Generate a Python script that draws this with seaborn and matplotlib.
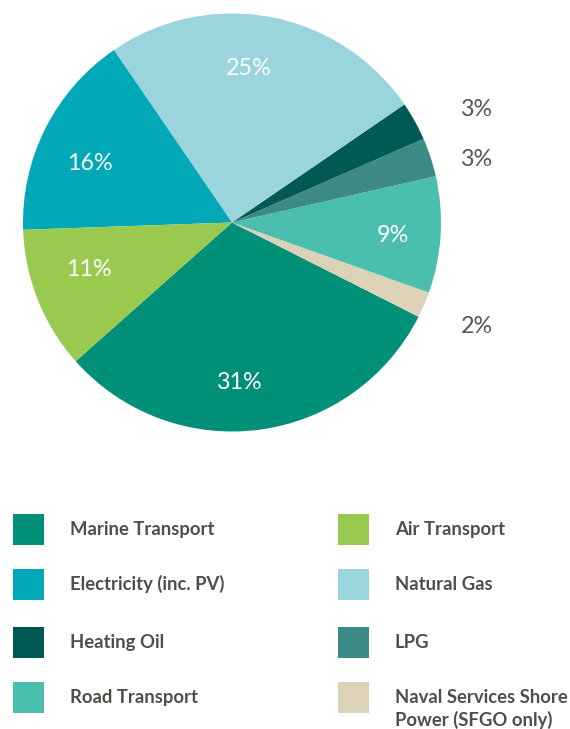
import matplotlib
matplotlib.use("Agg")
import matplotlib.pyplot as plt
from matplotlib.patches import Rectangle
import seaborn as sns

# ---- data ----
categories = ["Marine Transport", "Naval Services Shore\nPower (SFGO only)", "Road Transport",
              "LPG", "Heating Oil", "Natural Gas", "Electricity (inc. PV)", "Air Transport"]
values = [31, 2, 9, 3, 3, 25, 16, 11]
colors = ["#008f77", "#dcd2b7", "#4bbfad", "#3c8a86", "#005a53", "#9ad4dc", "#00a8b8", "#99c94f"]
legend_order = ["Marine Transport", "Air Transport", "Electricity (inc. PV)", "Natural Gas",
                "Heating Oil", "LPG", "Road Transport", "Naval Services Shore\nPower (SFGO only)"]

# ---- layout ----
sns.set_theme(style="white")
plt.rcParams["font.family"] = ["Lato", "DejaVu Sans"]

W, H = 570, 729
fig = plt.figure(figsize=(W / 100, H / 100), dpi=100)
ax = fig.add_axes([0, 0, 1, 1])
cx, cy, R = 232, 222.5, 209.0

wedges, _ = ax.pie(values, colors=colors, startangle=-138.4, counterclock=True,
                   radius=1.0, center=(0, 0), wedgeprops=dict(linewidth=0))

ax.set_aspect("auto")
ax.set_xlim(-cx / R, (W - cx) / R)
ax.set_ylim(-(H - cy) / R, cy / R)
ax.axis("off")

# percentage labels (positions in data units of the pie)
inside_pos = {0: (0.038, -0.765), 2: (0.772, -0.060), 5: (0.080, 0.736),
              6: (-0.679, 0.283), 7: (-0.686, -0.227)}
outside_pos = {4: (1.094, 0.511), 3: (1.094, 0.272), 1: (1.094, -0.530)}
for i, v in enumerate(values):
    if i in inside_pos:
        x, y = inside_pos[i]
        ax.text(x, y, f"{v}%", color="white", fontsize=16.8, ha="center", va="center")
    else:
        x, y = outside_pos[i]
        ax.text(x, y, f"{v}%", color="#57574f", fontsize=16.8, ha="left", va="baseline")

# legend
col_x = [13, 338]
text_x = [70, 395]
row_tops = [514, 569, 627, 682]
for k, lab in enumerate(legend_order):
    r, c = divmod(k, 2)
    col = colors[categories.index(lab)]
    top = row_tops[r]
    x0 = col_x[c] / W
    y0 = 1 - (top + 31) / H
    fig.patches.append(Rectangle((x0, y0), 31 / W, 31 / H, transform=fig.transFigure,
                                 facecolor=col, edgecolor="none"))
    for j, line in enumerate(lab.split("\n")):
        fig.text(text_x[c] / W, 1 - (top + 20.8 + 23.6 * j) / H, line, fontsize=13.3,
                 fontweight="bold", color="#4f4f49", ha="left", va="baseline")

fig.savefig("out.png", dpi=100, facecolor="white")
